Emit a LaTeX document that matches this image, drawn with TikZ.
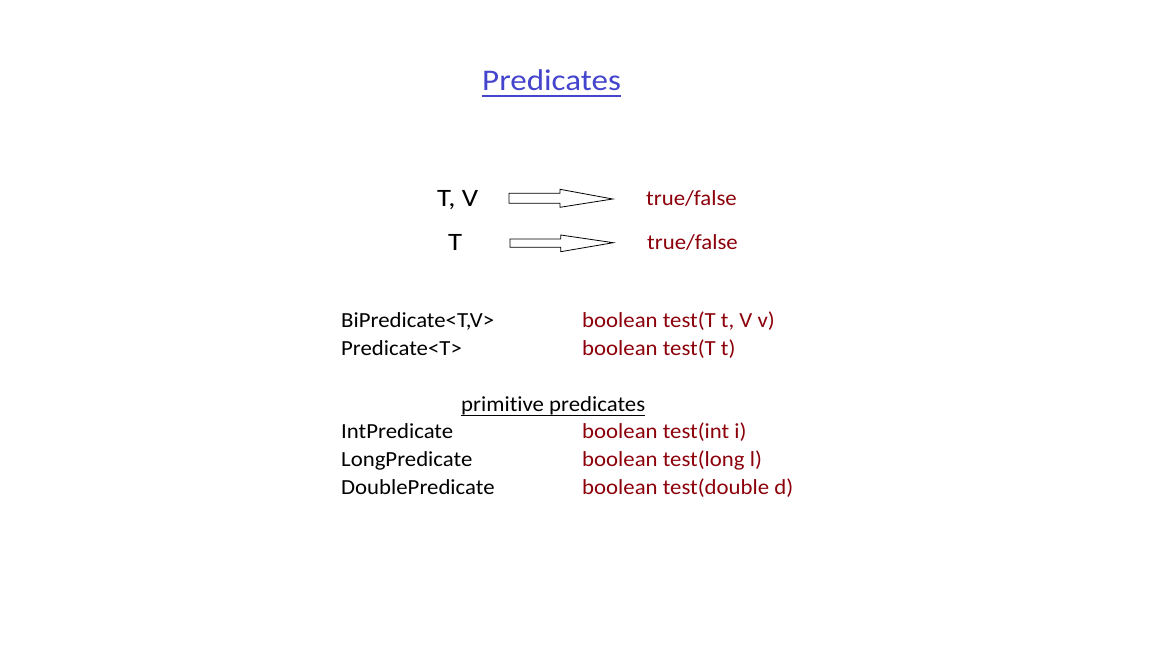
\documentclass[tikz,border=0pt]{standalone}
\usepackage{fontspec}
\setmainfont[Ligatures=NoCommon]{Carlito}
\newfontfamily\widefont[Ligatures=NoCommon,FakeStretch=1.06]{Carlito}
\newfontfamily\titlefont[Ligatures=NoCommon,FakeStretch=1.1]{Carlito}
\newfontfamily\tvfont[Ligatures=NoCommon,FakeStretch=1.15]{Carlito}
\definecolor{titleblue}{RGB}{68,68,204}
\definecolor{dred}{RGB}{140,0,10}
\begin{document}
\begin{tikzpicture}[x=1pt,y=-1pt,
  body/.style={inner sep=0pt,anchor=base west,font=\widefont\fontsize{21.5}{24}\selectfont},
  red/.style={body,text=dred},
  big/.style={inner sep=0pt,anchor=base west,font=\tvfont\fontsize{25}{28}\selectfont},
  blockarrow/.style={draw=black,line width=0.8pt,fill=white,line join=miter}]
\useasboundingbox (0,0) rectangle (1152,648);
\node[inner sep=0pt,anchor=base west,text=titleblue,font=\titlefont\fontsize{30}{34}\selectfont] (title) at (482,90) {Predicates};
\draw[titleblue,line width=2pt] ([yshift=-6pt]title.base west) -- ([yshift=-6pt]title.base east);

\node[big] (tv) at (437,206.7) {T, V};
\node[big] (t) at (448,250) {T};
\node[red] (tf1) at (646,205.7) {true/false};
\node[red] (tf2) at (647,249) {true/false};

\draw[blockarrow] (509,193.3) -- (560,193.3) -- (560,189.3) -- (612.7,199) -- (560,207.3) -- (560,203.3) -- (509,203.3) -- cycle;
\draw[blockarrow] (510,239) -- (560.7,239) -- (560.7,235) -- (613.3,242.7) -- (560.7,251.7) -- (560.7,247.3) -- (510,247.3) -- cycle;

\node[body] (bi) at (341,327.3) {BiPredicate<T,V>};
\node[body] (pr) at (341,355) {Predicate<T>};
\node[red] (bit) at (582,327.3) {boolean test(T t, V v)};
\node[red] (prt) at (582,355) {boolean test(T t)};

\node[body] (prim) at (461,411) {primitive predicates};
\draw[line width=1pt] ([yshift=-4pt]prim.base west) -- ([yshift=-4pt]prim.base east);

\node[body] (ip) at (341,438.3) {IntPredicate};
\node[body] (lp) at (341,466.7) {LongPredicate};
\node[body] (dp) at (341,494.3) {DoublePredicate};
\node[red] (ipt) at (582,438.3) {boolean test(int i)};
\node[red] (lpt) at (582,466.7) {boolean test(long l)};
\node[red] (dpt) at (582,494.3) {boolean test(double d)};
\end{tikzpicture}
\end{document}
